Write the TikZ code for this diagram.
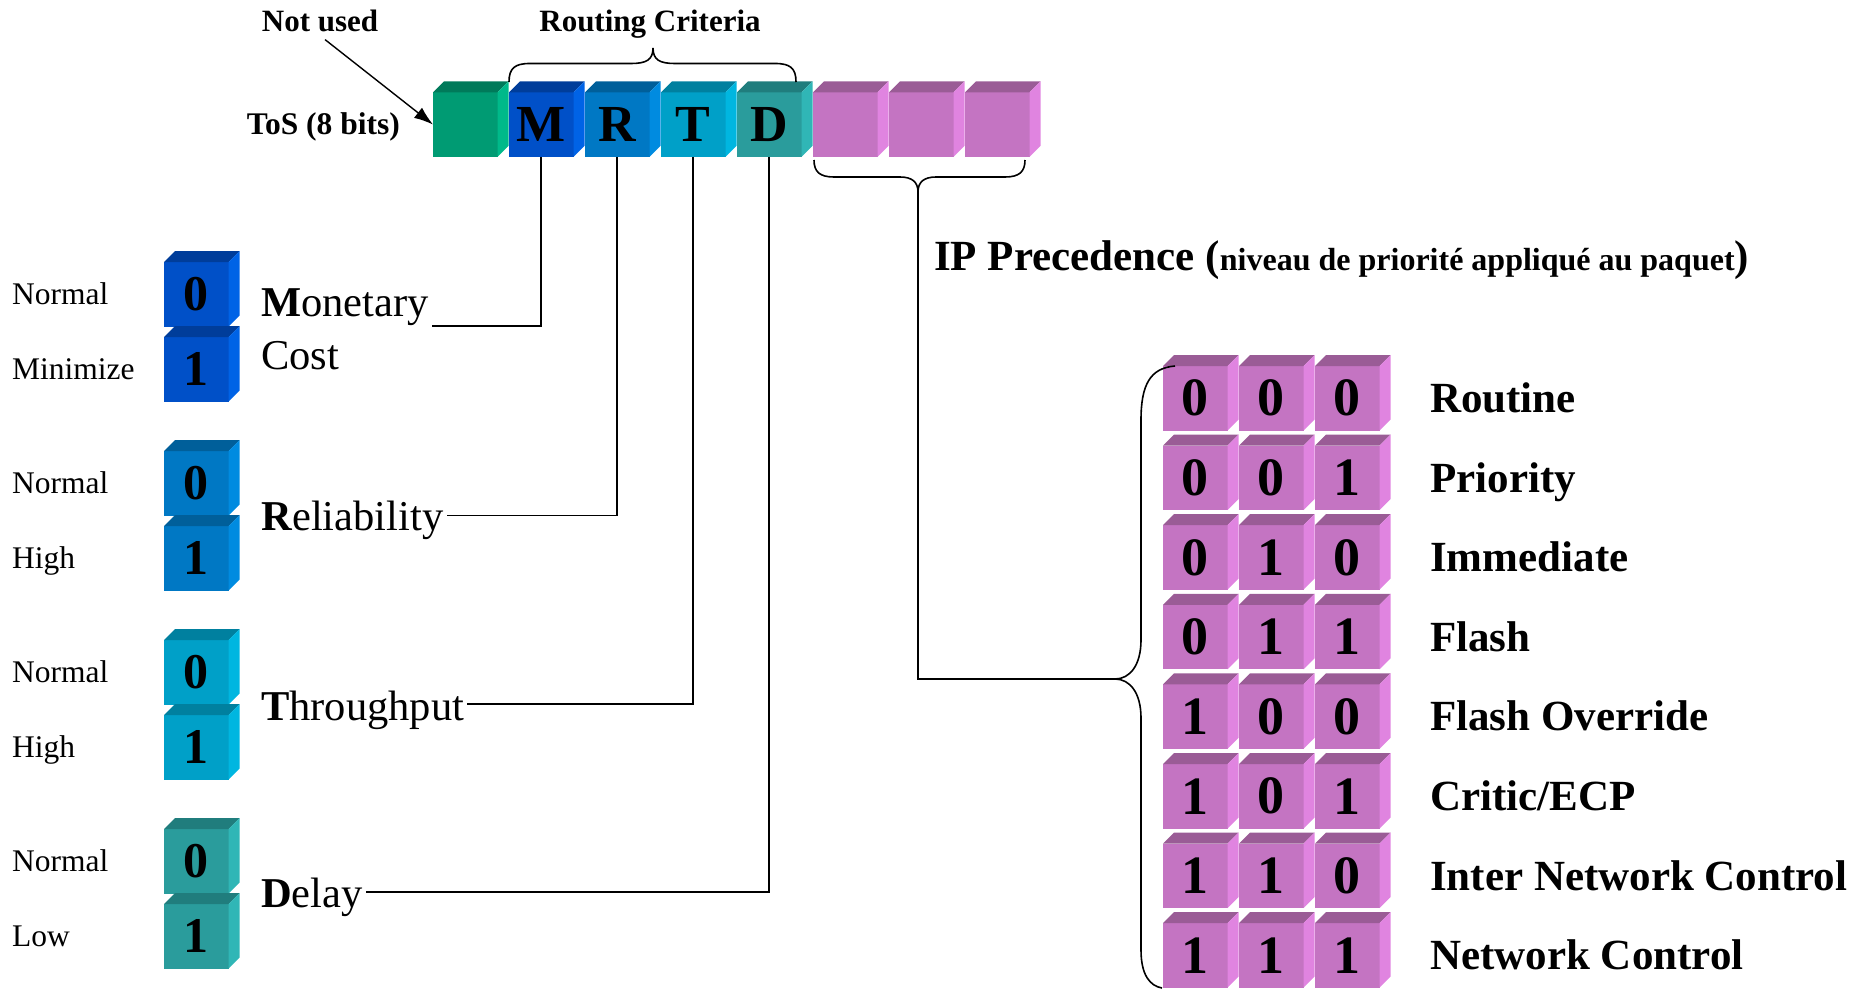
\documentclass[tikz,border=0pt]{standalone}
\usepackage{fontspec}
\setmainfont{Liberation Serif}
\usetikzlibrary{arrows.meta}

\newcommand{\fs}[1]{\fontsize{#1}{#1}\selectfont}

% cube colours: F = front, T = top, S = side
\definecolor{GF}{HTML}{009B73}\definecolor{GT}{HTML}{007A5A}\definecolor{GS}{HTML}{00B98A}
\definecolor{MF}{HTML}{0050C8}\definecolor{MT}{HTML}{003D9A}\definecolor{MS}{HTML}{0063E6}
\definecolor{RF}{HTML}{0078C4}\definecolor{RT}{HTML}{005F9A}\definecolor{RS}{HTML}{008BE0}
\definecolor{TF}{HTML}{00A0C8}\definecolor{TT}{HTML}{00809F}\definecolor{TS}{HTML}{00B6E0}
\definecolor{DF}{HTML}{2A9C9C}\definecolor{DT}{HTML}{207D7D}\definecolor{DS}{HTML}{30B6B6}
\definecolor{PF}{HTML}{C474C2}\definecolor{PT}{HTML}{9A5C96}\definecolor{PS}{HTML}{E084E0}

\tikzset{
  cubefront/.style={rectangle, minimum width=64.5pt, minimum height=64.5pt,
    inner sep=0pt, outer sep=0pt, anchor=north west},
  wire/.style={line width=1.6pt, black},
  lbl/.style={inner sep=0pt, anchor=base west},
  crit/.style={font=\fs{42.5}, anchor=west, inner sep=3pt},
}

% #1 name, #2 north-west corner of the front face, #3 colour prefix, #4 text, #5 font
\newcommand{\cubebox}[5]{%
  \node[cubefront, fill=#3F, font=#5] (#1) at (#2) {#4};
  \fill[#3T] (#1.north west) -- ++(11,-11) -- ([shift={(11,-11)}]#1.north east) -- (#1.north east) -- cycle;
  \fill[#3S] (#1.north east) -- ++(11,-11) -- ([shift={(11,-11)}]#1.south east) -- (#1.south east) -- cycle;
}

\begin{document}
\begin{tikzpicture}[x=1pt, y=-1pt]
\useasboundingbox (0,0) rectangle (1858,990);

% ---- ToS byte ----
\cubebox{g}{433,92.3}{G}{}{}
\cubebox{M}{509,92.3}{M}{M}{\fs{52}\bfseries}
\cubebox{R}{585,92.3}{R}{R}{\fs{52}\bfseries}
\cubebox{T}{661,92.3}{T}{T}{\fs{52}\bfseries}
\cubebox{D}{737,92.3}{D}{D}{\fs{52}\bfseries}
\cubebox{p1}{813,92.3}{P}{}{}
\cubebox{p2}{889,92.3}{P}{}{}
\cubebox{p3}{965,92.3}{P}{}{}

\node[font=\fs{31}\bfseries, inner sep=0pt, anchor=base] (notused) at (320,31.5) {Not used};
\node[font=\fs{31}\bfseries, inner sep=0pt, anchor=base] (routing) at (650,31.5) {Routing Criteria};
\node[font=\fs{31.5}\bfseries, anchor=east, inner sep=0pt] (tos) at (400,126.5) {ToS (8 bits)};

\draw[wire, line width=1.4pt, -{Latex[length=19pt,width=13pt]}]
  ([xshift=5pt,yshift=-7.5pt]notused.south) -- (g.west);

% brace over the routing criteria bits
\draw[wire] (509,82) .. controls (509,68) and (515,63.5) .. (530,63.5) -- (631,63.5)
  .. controls (646,63.5) and (653,60) .. (653,48)
  .. controls (653,60) and (660,63.5) .. (675,63.5) -- (775,63.5)
  .. controls (790,63.5) and (796,68) .. (796,82);

% brace under the precedence bits
\coordinate (ptip) at (918,192);
\draw[wire] (814,160) .. controls (814,172) and (820,177) .. (834,177) -- (900,177)
  .. controls (912,177) and (918,182) .. (ptip)
  .. controls (918,182) and (924,177) .. (936,177) -- (1005,177)
  .. controls (1019,177) and (1025,172) .. (1025,160);

\node[lbl] (ipprec) at (934,270)
  {\fs{43}\bfseries IP Precedence (\fs{32}niveau de priorité appliqué au paquet\fs{43})};

% ---- routing criteria values ----
\foreach \g/\col/\low in {0/M/Minimize,1/R/High,2/T/High,3/D/Low}{
  \cubebox{a\g}{164,{262+189*\g}}{\col}{0}{\fs{50}\bfseries}
  \cubebox{b\g}{164,{337+189*\g}}{\col}{1}{\fs{50}\bfseries}
  \node[lbl, font=\fs{31.5}] (na\g) at (12,{304.7+189*\g}) {Normal};
  \node[lbl, font=\fs{31.5}] (nb\g) at (12,{379.7+189*\g}) {\low};
}

\node[crit, align=left] (mon) at (258,329.5) {\textbf{M}onetary\\[10pt]Cost};
\node[crit] (rel) at (258,520.5) {\textbf{R}eliability};
\node[crit] (thr) at (258,710) {\textbf{T}hroughput};
\node[crit] (del) at (258,897) {\textbf{D}elay};

\draw[wire] (M.south) |- ([yshift=3.5pt]mon.east);
\draw[wire] (R.south) |- ([yshift=5pt]rel.east);
\draw[wire] (T.south) |- ([yshift=6pt]thr.east);
\draw[wire] (D.south) |- ([yshift=5pt]del.east);

% ---- precedence table ----
\foreach \r/\bits/\name in {0/{0,0,0}/Routine, 1/{0,0,1}/Priority, 2/{0,1,0}/Immediate,
    3/{0,1,1}/Flash, 4/{1,0,0}/Flash Override, 5/{1,0,1}/Critic\slash ECP,
    6/{1,1,0}/Inter Network Control, 7/{1,1,1}/Network Control}{
  \foreach \b [count=\c from 0] in \bits {
    \cubebox{q\r\c}{{1163+76*\c},{366+79.6*\r}}{P}{\b}{\fs{54}\bfseries}
  }
  \node[lbl, font=\fs{43}\bfseries] (lv\r) at (1430,{412.5+79.6*\r}) {\name};
}

% large brace grouping the table
\coordinate (btip) at (1115,679);
\draw[wire] (1175,366) .. controls (1150,368) and (1141,385) .. (1141,420) -- (1141,640)
  .. controls (1141,665) and (1130,679) .. (btip)
  .. controls (1130,679) and (1141,693) .. (1141,718) -- (1141,950)
  .. controls (1141,975) and (1150,986) .. (1162,988);

\draw[wire] (ptip) |- (btip);
\end{tikzpicture}
\end{document}
